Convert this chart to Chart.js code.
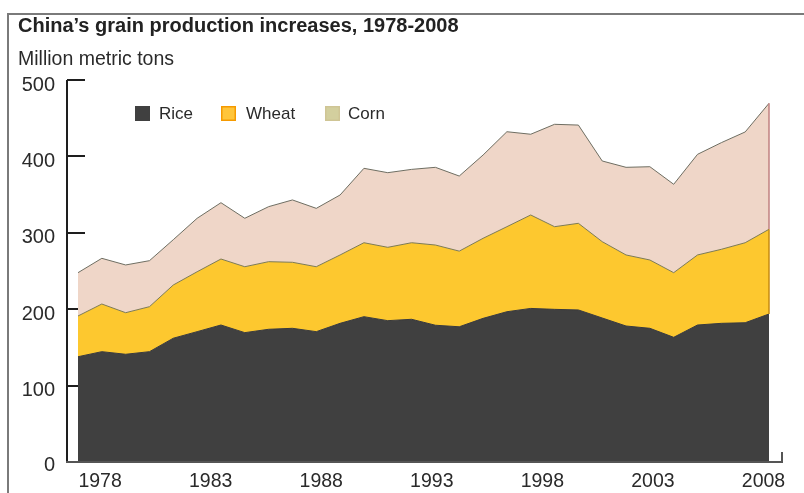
<!DOCTYPE html>
<html>
<head>
<meta charset="utf-8">
<script src="https://cdn.jsdelivr.net/npm/chart.js@4.4.1/dist/chart.umd.min.js"></script>
<style>
	html, body { margin: 0; padding: 0; background: #fff; }
	#wrap { width: 804px; height: 493px; }
</style>
</head>
<body>
<div id="wrap"><canvas id="grainChart" width="804" height="493"></canvas></div>
<script>
// 2007 is not drawn in the original, 30 points only
let years = ["1978", "1979", "1980", "1981", "1982", "1983", "1984", "1985", "1986", "1987",
	"1988", "1989", "1990", "1991", "1992", "1993", "1994", "1995", "1996", "1997",
	"1998", "1999", "2000", "2001", "2002", "2003", "2004", "2005", "2006", "2008"];

let rice = [137.8, 144.4, 141, 144.4, 162, 170.6, 179.3, 169.3, 173.7, 175,
	170.6, 181.5, 190.2, 185, 186.8, 179, 177, 188, 196.7, 201,
	199.8, 199, 188.5, 178, 175, 163.2, 179.3, 181.5, 182.3, 193.7];

let wheat = [53.3, 62.4, 54.4, 58.9, 69.7, 78.4, 86.4, 86.3, 88.5, 86.4,
	85, 89.5, 96.8, 96, 100.2, 105, 99, 104.8, 111.3, 122.3,
	108.2, 113.4, 99.9, 93, 89.4, 84.6, 91.7, 96.9, 104.7, 110.9];

let corn = [56.7, 59.8, 62.5, 60.2, 59.3, 70, 73.7, 63.4, 72, 81.6,
	76.4, 78.5, 97.4, 97.7, 96, 101.7, 98.3, 109, 124.3, 105.7,
	134, 128.6, 105.6, 114.7, 122.1, 115.7, 131.7, 139.6, 145, 164.9];

let yTicks = [0, 100, 200, 300, 400, 500];
let xTickLabels = [1978, 1983, 1988, 1993, 1998, 2003, 2008];

let fontFamily = "'Liberation Sans', Arial, Helvetica, sans-serif";

let legendItems = [
	{ text: "Rice", fill: "#404040", stroke: "#404040", x: 135, textX: 159 },
	{ text: "Wheat", fill: "#ffc53a", stroke: "#f59a00", x: 221, textX: 246 },
	{ text: "Corn", fill: "#d3cf9e", stroke: "#cfc595", x: 325, textX: 348 },
];

const decorPlugin = {
	id: "decor",
	beforeDraw(chart) {
		const c = chart.ctx;
		c.save();
		c.fillStyle = "#fff";
		c.fillRect(0, 0, chart.width, chart.height);
		// frame
		c.strokeStyle = "#7a7a7a";
		c.lineWidth = 2;
		c.beginPath();
		c.moveTo(8, chart.height);
		c.lineTo(8, 14);
		c.lineTo(chart.width, 14);
		c.stroke();
		// title + unit
		c.fillStyle = "#222";
		c.textBaseline = "alphabetic";
		c.textAlign = "left";
		c.font = "bold 20px " + fontFamily;
		c.fillText("China\u2019s grain production increases, 1978-2008", 18, 32);
		c.fillStyle = "#2a2a2a";
		c.font = "19.5px " + fontFamily;
		c.fillText("Million metric tons", 18, 65);
		c.restore();
	},
	beforeDatasetsDraw(chart) {
		const c = chart.ctx;
		const y = chart.scales.y;
		c.save();
		c.strokeStyle = "#1e1e1e";
		c.lineWidth = 2;
		yTicks.forEach((v) => {
			if (v === 0) return;
			const py = Math.round(y.getPixelForValue(v));
			c.beginPath();
			c.moveTo(67, py);
			c.lineTo(85, py);
			c.stroke();
		});
		c.restore();
	},
	afterDatasetsDraw(chart) {
		const c = chart.ctx;
		const x = chart.scales.x;
		const y = chart.scales.y;
		const last = years.length - 1;
		const px = x.getPixelForValue(last);
		const riceTop = y.getPixelForValue(rice[last]);
		const wheatTop = y.getPixelForValue(rice[last] + wheat[last]);
		const cornTop = y.getPixelForValue(rice[last] + wheat[last] + corn[last]);
		c.save();
		c.lineWidth = 1.5;
		c.strokeStyle = "#c08080";
		c.beginPath();
		c.moveTo(px, cornTop);
		c.lineTo(px, wheatTop);
		c.stroke();
		c.strokeStyle = "#c58a10";
		c.beginPath();
		c.moveTo(px, wheatTop);
		c.lineTo(px, riceTop);
		c.stroke();

		// axes
		const y0 = Math.round(y.getPixelForValue(0));
		const yTop = Math.round(y.getPixelForValue(500));
		c.strokeStyle = "#1e1e1e";
		c.lineWidth = 2;
		c.beginPath();
		c.moveTo(67, yTop);
		c.lineTo(67, y0);
		c.stroke();
		c.strokeStyle = "#555";
		c.beginPath();
		c.moveTo(66, y0);
		c.lineTo(782, y0);
		c.lineTo(782, y0 - 10);
		c.stroke();

		// tick labels
		c.fillStyle = "#2a2a2a";
		c.font = "20px " + fontFamily;
		c.textBaseline = "middle";
		c.textAlign = "right";
		yTicks.forEach((v) => {
			const off = v === 0 ? 3 : 5;
			c.fillText(String(v), 55, y.getPixelForValue(v) + off);
		});
		c.textAlign = "center";
		c.font = "19.5px " + fontFamily;
		const xl = chart.scales.xl;
		xTickLabels.forEach((v) => {
			c.fillText(String(v), xl.getPixelForValue(v), 482);
		});

		// legend
		c.font = "17px " + fontFamily;
		c.textAlign = "left";
		legendItems.forEach((item) => {
			c.fillStyle = item.fill;
			c.fillRect(item.x, 106, 15, 15);
			c.strokeStyle = item.stroke;
			c.lineWidth = 1.5;
			c.strokeRect(item.x + 0.75, 106.75, 13.5, 13.5);
			c.fillStyle = "#2a2a2a";
			c.fillText(item.text, item.textX, 114);
		});
		c.restore();
	},
};

let dataRice = {
	label: "Rice",
	data: rice,
	fill: "origin",
	backgroundColor: "#404040",
	borderColor: "#3a3a3a",
	borderWidth: 1,
	pointRadius: 0,
	tension: 0,
};

let dataWheat = {
	label: "Wheat",
	data: wheat,
	fill: "-1",
	backgroundColor: "#fdc82f",
	borderColor: "#7c7a55",
	borderWidth: 1,
	pointRadius: 0,
	tension: 0,
};

let dataCorn = {
	label: "Corn",
	data: corn,
	fill: "-1",
	backgroundColor: "#efd6c8",
	borderColor: "#6e6e62",
	borderWidth: 1,
	pointRadius: 0,
	tension: 0,
};

let chartOptions = {
	responsive: false,
	animation: false,
	layout: {
		padding: { left: 78, right: 35, top: 80, bottom: 31 },
	},
	plugins: {
		legend: { display: false },
		tooltip: { enabled: false },
	},
	scales: {
		x: { type: "category", display: false, offset: false },
		xl: { type: "linear", axis: "x", position: "bottom", min: 1977, max: 2008.25, display: false },
		y: { stacked: true, min: 0, max: 500, display: false },
	},
};

let grainChart = new Chart(document.getElementById("grainChart"), {
	type: "line",
	data: {
		labels: years,
		datasets: [dataRice, dataWheat, dataCorn],
	},
	options: chartOptions,
	plugins: [decorPlugin],
});
</script>
</body>
</html>
